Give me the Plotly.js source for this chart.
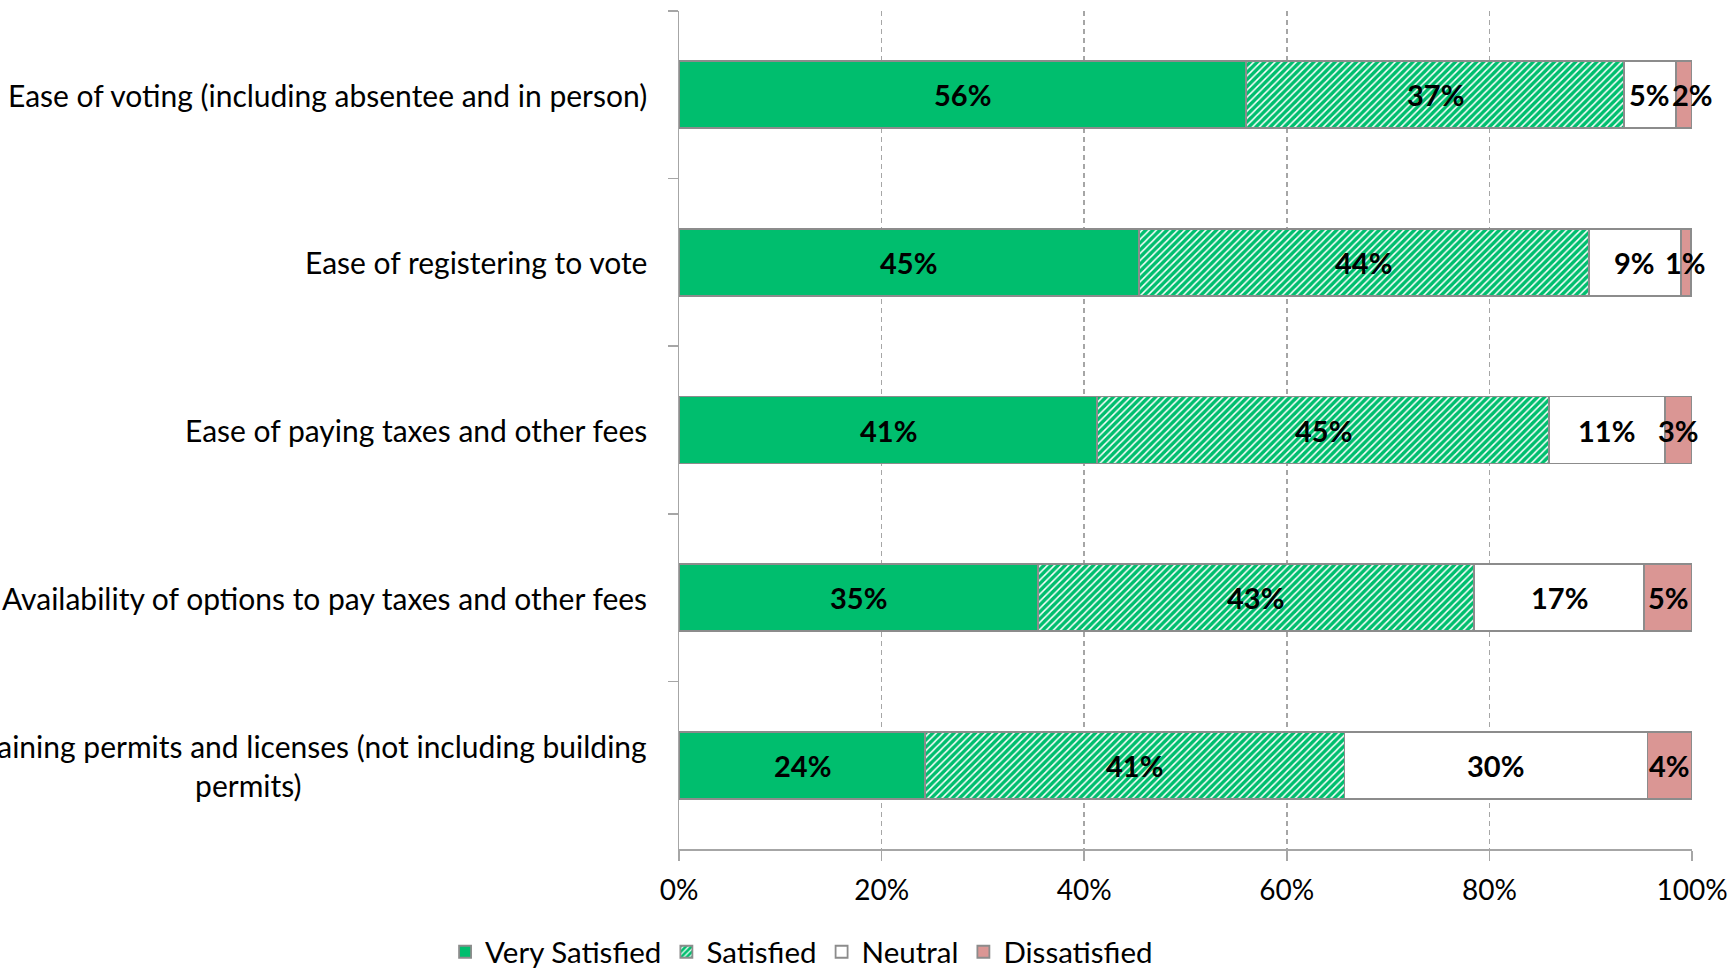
<!DOCTYPE html>
<html>
<head>
<meta charset="utf-8">
<script src="https://cdn.plot.ly/plotly-3.0.1.min.js"></script>
<style>
  html, body { margin: 0; padding: 0; background: #ffffff; }
  #chart { width: 1733px; height: 968px; }
</style>
</head>
<body>
<div id="chart"></div>
<script>
// ---- data ----
const categories = [
  "Ease of voting (including absentee and in person)",
  "Ease of registering to vote",
  "Ease of paying taxes and other fees",
  "Availability of options to pay taxes and other fees",
  "Ease of obtaining permits and licenses (not including building<br>permits)"
];
const seriesNames = ["Very Satisfied", "Satisfied", "Neutral", "Dissatisfied"];
const verySatisfied = [56.0, 45.4, 41.3, 35.4, 24.3];
const satisfied     = [37.3, 44.4, 44.6, 43.1, 41.4];
const neutral       = [5.1, 9.1, 11.4, 16.8, 29.9];
const dissatisfied  = [1.6, 1.0, 2.7, 4.7, 4.4];
const xTicks = [0, 20, 40, 60, 80, 100];

// ---- styling ----
const FONT = "Lato, 'Open Sans', sans-serif";
const CAT_FS = 30;
const TICK_FS = 28;
const LABEL_FS = 29;
const LEG_FS = 29.5;
const GREEN = "#00BE6E";
const BORDER = "#8C8C8C";
const AXIS = "#A6A6A6";
const PLOT_W = 1013; // plot-area width in px (for label collision avoidance)

function barTrace(name, values, fill, pattern) {
  const t = {
    type: "bar",
    orientation: "h",
    name: name,
    y: categories,
    x: values,
    marker: { color: fill, line: { color: BORDER, width: 1.8 } },
    hoverinfo: "skip"
  };
  if (pattern) t.marker.pattern = pattern;
  return t;
}

const allSeries = [verySatisfied, satisfied, neutral, dissatisfied];

const traces = [
  barTrace(seriesNames[0], verySatisfied, GREEN),
  barTrace(seriesNames[1], satisfied, "#FFFFFF",
    { shape: "/", fgcolor: GREEN, bgcolor: "#FFFFFF", size: 5, solidity: 0.7, fillmode: "overlay", fgopacity: 1 }),
  barTrace(seriesNames[2], neutral, "#FFFFFF"),
  barTrace(seriesNames[3], dissatisfied, "#DA9694")
];

const ctx = document.createElement("canvas").getContext("2d");
function textW(s) { return ctx.measureText(s).width; }

// data labels centred on each segment (positions derived from data through the x axis)
const annotations = [];
categories.forEach((c, i) => {
  let cum = 0;
  allSeries.forEach(s => {
    const v = s[i];
    annotations.push({
      xref: "x", yref: "y",
      x: cum + v / 2, y: c,
      xanchor: "center", yanchor: "middle",
      xshift: 0,
      showarrow: false,
      text: Math.round(v) + "%",
      font: { family: FONT, size: LABEL_FS, color: "#000000", weight: 700 }
    });
    cum += v;
  });
});

// category labels
categories.forEach(c => {
  annotations.push({
    xref: "paper", yref: "y",
    x: 0, y: c,
    xanchor: "right", yanchor: "middle",
    xshift: -30,
    align: "center",
    showarrow: false,
    text: c,
    font: { family: FONT, size: CAT_FS, color: "#000000" }
  });
});

const layout = {
  width: 1733, height: 968,
  autosize: false,
  margin: { l: 679, r: 41, t: 11, b: 119, pad: 0, autoexpand: false },
  paper_bgcolor: "#FFFFFF",
  plot_bgcolor: "#FFFFFF",
  barmode: "stack",
  bargap: 0.6,
  showlegend: true,
  font: { family: FONT, size: CAT_FS, color: "#000000" },
  xaxis: {
    range: [0, 100],
    tickvals: xTicks,
    ticktext: xTicks.map(v => v + "%"),
    showgrid: true,
    gridcolor: AXIS,
    gridwidth: 1.4,
    griddash: "5px,4px",
    zeroline: false,
    showline: true,
    linecolor: AXIS,
    linewidth: 1.5,
    ticks: "outside",
    ticklen: 10,
    tickwidth: 1.5,
    tickcolor: AXIS,
    ticklabelstandoff: 6,
    tickfont: { family: FONT, size: TICK_FS, color: "#000000" },
    fixedrange: true
  },
  yaxis: {
    type: "category",
    autorange: "reversed",
    showticklabels: false,
    showgrid: false,
    zeroline: false,
    showline: true,
    linecolor: AXIS,
    linewidth: 1.5,
    ticks: "outside",
    tickson: "boundaries",
    ticklen: 10,
    tickwidth: 1.5,
    tickcolor: AXIS,
    fixedrange: true
  },
  legend: {
    orientation: "h",
    x: 0.121, xanchor: "center",
    y: -0.123, yanchor: "middle",
    font: { family: FONT, size: LEG_FS, color: "#000000" },
    traceorder: "normal",
    itemclick: false,
    itemdoubleclick: false
  },
  annotations: annotations
};

function draw() {
  ctx.font = "700 " + LABEL_FS + "px Lato";
  // nudge a label right when it would collide with the previous one in the same bar
  let k = 0;
  categories.forEach((c, i) => {
    let cum = 0, prevRight = -Infinity;
    allSeries.forEach(s => {
      const v = s[i];
      const a = annotations[k++];
      const centerPx = (cum + v / 2) / 100 * PLOT_W;
      const w = textW(a.text);
      const left = centerPx - w / 2;
      a.xshift = left < prevRight + 2 ? prevRight + 2 - left : 0;
      prevRight = centerPx + a.xshift + w / 2;
      cum += v;
    });
  });
  Plotly.newPlot("chart", traces, layout, { displayModeBar: false, staticPlot: true });
}

if (document.fonts && document.fonts.load) {
  document.fonts.load("700 " + LABEL_FS + "px Lato").then(draw, draw);
} else {
  draw();
}
</script>
</body>
</html>
